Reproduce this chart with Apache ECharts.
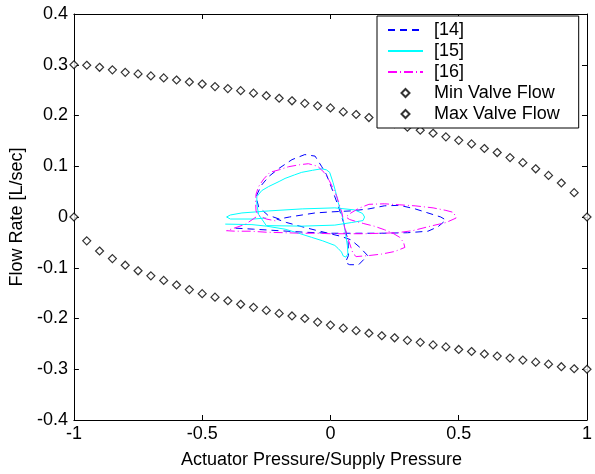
<!DOCTYPE html>
<html><head><meta charset="utf-8">
<script src="https://cdn.jsdelivr.net/npm/echarts@6/dist/echarts.min.js"></script>
<style>html,body{margin:0;padding:0;background:#fff}#c{width:595px;height:474px}</style>
</head><body><div id="c"></div>
<script>
// ---- data ----
const seriesNames = ['[14]', '[15]', '[16]', 'Min Valve Flow', 'Max Valve Flow'];
const xAxisTitle = 'Actuator Pressure/Supply Pressure';
const yAxisTitle = 'Flow Rate [L/sec]';

const pressureGrid = [-1, -0.95, -0.9, -0.85, -0.8, -0.75, -0.7, -0.65, -0.6, -0.55, -0.5,
  -0.45, -0.4, -0.35, -0.3, -0.25, -0.2, -0.15, -0.1, -0.05, 0,
  0.05, 0.1, 0.15, 0.2, 0.25, 0.3, 0.35, 0.4, 0.45, 0.5,
  0.55, 0.6, 0.65, 0.7, 0.75, 0.8, 0.85, 0.9, 0.95, 1];

const maxValveFlow = [0.300, 0.299, 0.295, 0.290, 0.285, 0.282, 0.278, 0.274, 0.270, 0.266, 0.262,
  0.257, 0.253, 0.249, 0.244, 0.239, 0.234, 0.229, 0.224, 0.219, 0.215,
  0.207, 0.202, 0.196, 0.190, 0.184, 0.177, 0.171, 0.165, 0.158, 0.151,
  0.144, 0.135, 0.127, 0.117, 0.107, 0.095, 0.082, 0.067, 0.048, 0.000];

const minValveFlow = [0.000, -0.047, -0.067, -0.082, -0.095, -0.106, -0.116, -0.125, -0.134, -0.143, -0.151,
  -0.158, -0.165, -0.172, -0.178, -0.184, -0.190, -0.195, -0.200, -0.207, -0.213,
  -0.219, -0.224, -0.229, -0.234, -0.238, -0.243, -0.247, -0.252, -0.256, -0.261,
  -0.265, -0.270, -0.274, -0.278, -0.282, -0.286, -0.290, -0.295, -0.299, -0.300];

const flow14 = [[-0.37,-0.022],[-0.3,-0.024],[-0.2,-0.027],[-0.1,-0.03],[0.0,-0.032],[0.1,-0.032],
  [0.2,-0.032],[0.3,-0.031],[0.38,-0.028],[0.42,-0.019],[0.45,-0.006],[0.43,0.0],[0.38,0.008],
  [0.33,0.016],[0.27,0.023],[0.21,0.022],[0.15,0.016],[0.08,0.012],[0.0,0.01],[-0.06,0.008],
  [-0.11,0.004],[-0.16,0.0],[-0.2,-0.004],[-0.245,0.004],[-0.28,0.02],[-0.29,0.04],[-0.27,0.062],
  [-0.24,0.08],[-0.2,0.096],[-0.15,0.113],[-0.1,0.123],[-0.06,0.12],[-0.035,0.1],[-0.016,0.084],
  [0.004,0.058],[0.03,0.022],[0.055,-0.017],[0.069,-0.05],[0.07,-0.076],[0.058,-0.09],[0.075,-0.094],
  [0.11,-0.094],[0.145,-0.076],[0.115,-0.06],[0.08,-0.045],[0.04,-0.038],[-0.05,-0.027],
  [-0.12,-0.018],[-0.17,-0.011],[-0.21,-0.004]];

const flow15 = [[-0.25,-0.002],[-0.3,-0.004],[-0.39,-0.004],[-0.405,0.0],[-0.39,0.004],[-0.345,0.008],
  [-0.24,0.012],[-0.11,0.016],[0.017,0.018],[0.094,0.014],[0.125,0.007],[0.133,0.0],[0.127,-0.007],
  [0.081,-0.011],[0.017,-0.016],[-0.11,-0.018],[-0.25,-0.017],[-0.28,0.005],[-0.287,0.025],
  [-0.287,0.04],[-0.268,0.052],[-0.241,0.06],[-0.2,0.07],[-0.177,0.076],[-0.14,0.083],[-0.112,0.088],
  [-0.07,0.092],[-0.035,0.095],[-0.016,0.093],[-0.003,0.088],[0.01,0.068],[0.02,0.05],[0.03,0.029],
  [0.049,-0.004],[0.058,-0.03],[0.066,-0.056],[0.068,-0.073],[0.06,-0.079],[0.05,-0.077],
  [0.043,-0.069],[0.03,-0.062],[0.017,-0.056],[-0.03,-0.047],[-0.074,-0.04],[-0.13,-0.031],
  [-0.177,-0.024],[-0.25,-0.018],[-0.306,-0.015],[-0.41,-0.014]];

const flow16 = [[-0.29,0.0],[-0.33,-0.014],[-0.364,-0.02],[-0.405,-0.027],[-0.37,-0.028],[-0.31,-0.028],
  [-0.25,-0.03],[-0.18,-0.031],[-0.11,-0.032],[-0.05,-0.032],[0.0,-0.033],[0.06,-0.033],[0.13,-0.033],
  [0.2,-0.032],[0.26,-0.031],[0.32,-0.027],[0.39,-0.018],[0.45,-0.011],[0.49,-0.002],[0.48,0.009],
  [0.45,0.013],[0.4,0.018],[0.33,0.022],[0.27,0.024],[0.21,0.026],[0.15,0.025],[0.11,0.017],
  [0.08,0.008],[0.06,0.0],[0.075,-0.005],[0.095,-0.008],[0.13,-0.013],[0.17,-0.018],[0.21,-0.025],
  [0.24,-0.031],[0.27,-0.04],[0.285,-0.05],[0.29,-0.06],[0.25,-0.068],[0.2,-0.073],[0.15,-0.076],
  [0.1,-0.078],[0.088,-0.072],[0.082,-0.063],[0.07,-0.045],[0.055,-0.02],[0.045,0.008],[0.036,0.022],
  [0.025,0.04],[0.012,0.055],[-0.005,0.072],[-0.025,0.088],[-0.05,0.1],[-0.086,0.105],[-0.12,0.103],
  [-0.164,0.099],[-0.2,0.093],[-0.236,0.088],[-0.26,0.075],[-0.28,0.06],[-0.29,0.045],[-0.292,0.03],
  [-0.29,0.012],[-0.28,0.003],[-0.25,-0.004],[-0.21,-0.008]];

// ---- chart ----
const FONT = '"Liberation Sans", Arial, sans-serif';
const chart = echarts.init(document.getElementById('c'), null, {renderer: 'canvas'});

function zip(xs, ys) { return xs.map((x, i) => [x, ys[i]]); }

const axisCommon = {
  type: 'value',
  axisLine: {show: true, onZero: false, lineStyle: {color: '#000', width: 1}},
  axisTick: {show: true, inside: true, length: 5, lineStyle: {color: '#000', width: 1}},
  splitLine: {show: false}
};
const labelStyle = {color: '#000', fontSize: 18, fontFamily: FONT};
const smallDiamond = 'path://M0,0M14,0M14,14M0,14M7,3L11,7L7,11L3,7Z';

function lineSeries(name, data, color, type) {
  return {
    name, type: 'line', data, xAxisIndex: 0, yAxisIndex: 0,
    symbol: 'none', smooth: false, silent: true, z: 3,
    lineStyle: {color, width: 1, type},
    itemStyle: {color}
  };
}
function markerSeries(name, values) {
  return {
    name, type: 'scatter', data: zip(pressureGrid, values), xAxisIndex: 0, yAxisIndex: 0,
    symbol: 'diamond', symbolSize: 8, silent: true, z: 2,
    itemStyle: {color: '#fff', borderColor: '#000', borderWidth: 1.2}
  };
}
const hiddenSymbol = {opacity: 0, color: 'rgba(0,0,0,0)', borderWidth: 0};

chart.setOption({
  animation: false,
  backgroundColor: '#fff',
  grid: {left: 71, right: 8, top: 14, bottom: 52},
  xAxis: [
    Object.assign({}, axisCommon, {
      position: 'bottom', min: -1, max: 1, interval: 0.5,
      axisLabel: Object.assign({margin: 5}, labelStyle),
      name: xAxisTitle, nameLocation: 'middle', nameGap: 31,
      nameTextStyle: Object.assign({padding: [0, 18, 0, 0]}, labelStyle)
    }),
    Object.assign({}, axisCommon, {
      position: 'top', min: -1, max: 1, interval: 0.5, axisLabel: {show: false}
    })
  ],
  yAxis: [
    Object.assign({}, axisCommon, {
      position: 'left', min: -0.4, max: 0.4, interval: 0.1,
      axisLabel: Object.assign({margin: 6}, labelStyle),
      name: yAxisTitle, nameLocation: 'middle', nameGap: 36, nameRotate: 90,
      nameTextStyle: labelStyle
    }),
    Object.assign({}, axisCommon, {
      position: 'right', min: -0.4, max: 0.4, interval: 0.1, axisLabel: {show: false}
    })
  ],
  legend: {
    orient: 'vertical', left: 377, top: 16,
    padding: [5, 19, 5, 10],
    itemWidth: 35, itemHeight: 14, itemGap: 3,
    backgroundColor: '#fff', borderColor: '#000', borderWidth: 1, borderRadius: 0,
    selectedMode: false, z: 10,
    textStyle: {color: '#000', fontSize: 18, fontFamily: FONT, padding: [0, 0, 0, 6]},
    data: [
      {name: seriesNames[0], itemStyle: hiddenSymbol},
      {name: seriesNames[1], itemStyle: hiddenSymbol},
      {name: seriesNames[2], itemStyle: hiddenSymbol},
      {name: seriesNames[3], icon: smallDiamond},
      {name: seriesNames[4], icon: smallDiamond}
    ]
  },
  series: [
    lineSeries(seriesNames[0], flow14, '#0000ff', [7, 5]),
    lineSeries(seriesNames[1], flow15, '#00ffff', 'solid'),
    lineSeries(seriesNames[2], flow16, '#ff00ff', [9, 3, 1, 3]),
    markerSeries(seriesNames[3], minValveFlow),
    markerSeries(seriesNames[4], maxValveFlow)
  ]
});
</script></body></html>
